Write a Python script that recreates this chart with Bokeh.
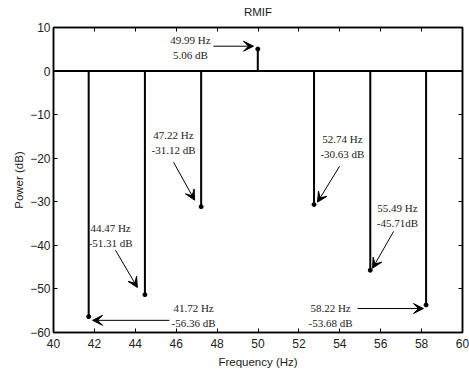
from bokeh.plotting import figure
from bokeh.models import (Arrow, VeeHead, LinearAxis, Span, ColumnDataSource,
                          FixedTicker, Range1d)
from bokeh.embed import file_html
from bokeh.resources import INLINE
from bokeh.core.properties import value

# ---- data ----
freq_hz = [41.72, 44.47, 47.22, 49.99, 52.74, 55.49, 58.22]
power_db = [-56.36, -51.31, -31.12, 5.06, -30.63, -45.71, -53.68]
db_sep = [" ", " ", " ", " ", " ", "", " "]
x_ticks = [40, 42, 44, 46, 48, 50, 52, 54, 56, 58, 60]
y_ticks = [-60, -50, -40, -30, -20, -10, 0, 10]
title_text = "RMIF"

# ---- annotation layout (offsets from each peak, data units) ----
txt_off = [(5.13, 0.15), (-1.68, 13.5), (-1.35, 14.7), (-3.29, 0.3),
           (1.39, 13.3), (1.33, 12.6), (-4.67, -2.53)]
arr_start = [(3.95, -0.85), (-1.44, 10.2), (-1.35, 10.2), (-2.17, 0.65),
             (1.25, 8.8), (1.14, 8.9), (-3.35, -0.82)]
arr_end = [(0.19, -0.85), (-0.37, 1.65), (-0.32, 1.5), (-0.21, 0.65),
           (0.17, 0.55), (0.11, 0.45), (-0.13, -0.82)]

p = figure(width=469, height=374, output_backend="svg", toolbar_location=None,
           x_range=Range1d(40, 60), y_range=Range1d(-60, 10),
           x_axis_label="Frequency (Hz)", y_axis_label="Power (dB)",
           min_border_left=53, min_border_right=7, min_border_top=27,
           min_border_bottom=42)
p.background_fill_color = "white"
p.border_fill_color = "white"
p.outline_line_color = "black"
p.outline_line_width = 1.5
p.grid.visible = False

for ax in p.xaxis + p.yaxis:
    ax.major_tick_in = 4
    ax.major_tick_out = 0
    ax.minor_tick_line_color = None
    ax.axis_line_color = "black"
    ax.axis_line_width = 1.5
    ax.major_tick_line_color = "black"
    ax.major_label_text_font = "Liberation Sans"
    ax.major_label_text_font_size = "12px"
    ax.major_label_text_color = "#222222"
    ax.axis_label_text_font = "Liberation Sans"
    ax.axis_label_text_font_size = "11.5px"
    ax.axis_label_text_font_style = "normal"
    ax.axis_label_text_color = "#222222"
p.xaxis.ticker = FixedTicker(ticks=x_ticks)
p.yaxis.ticker = FixedTicker(ticks=y_ticks)
p.xaxis.major_label_standoff = 6
p.yaxis.major_label_standoff = 3
p.xaxis.axis_label_standoff = 5
p.yaxis.axis_label_standoff = 2

top = LinearAxis(ticker=FixedTicker(ticks=x_ticks), major_tick_in=4, major_tick_out=0,
                 minor_tick_line_color=None, major_label_text_font_size="1px",
                 major_label_text_color=None, major_label_standoff=0,
                 axis_line_color="black", axis_line_width=1.5,
                 axis_label=title_text, axis_label_standoff=10,
                 axis_label_text_font="Liberation Sans", axis_label_text_font_size="11.5px",
                 axis_label_text_font_style="normal", axis_label_text_color="#222222")
right = LinearAxis(ticker=FixedTicker(ticks=y_ticks), major_tick_in=4, major_tick_out=0,
                   minor_tick_line_color=None, major_label_text_font_size="1px",
                   major_label_text_color=None, major_label_standoff=0,
                   axis_line_color="black", axis_line_width=1.5)
p.add_layout(top, "above")
p.add_layout(right, "right")

p.add_layout(Span(location=0, dimension="width", line_color="black", line_width=2))

src = ColumnDataSource(dict(f=freq_hz, v=power_db, z=[0] * len(freq_hz)))
p.segment(x0="f", y0="z", x1="f", y1="v", source=src, line_color="black", line_width=2)
p.scatter(x="f", y="v", source=src, size=4, color="black")

labels = [f"{f:.2f} Hz\n{v:.2f}{s}dB" for f, v, s in zip(freq_hz, power_db, db_sep)]
tx = [f + o[0] for f, o in zip(freq_hz, txt_off)]
ty = [v + o[1] for v, o in zip(power_db, txt_off)]
p.text(x=tx, y=ty, text=labels, text_font=value("Liberation Serif"),
       text_font_size="11px", text_align="center", text_baseline="middle",
       text_line_height=1.25, text_color="#222222")

for f, v, s, e in zip(freq_hz, power_db, arr_start, arr_end):
    p.add_layout(Arrow(x_start=f + s[0], y_start=v + s[1], x_end=f + e[0], y_end=v + e[1],
                       line_color="black", line_width=1,
                       end=VeeHead(size=10, fill_color="black", line_color="black",
                                   line_width=1)))

open("out.html", "w").write(file_html(p, INLINE))
